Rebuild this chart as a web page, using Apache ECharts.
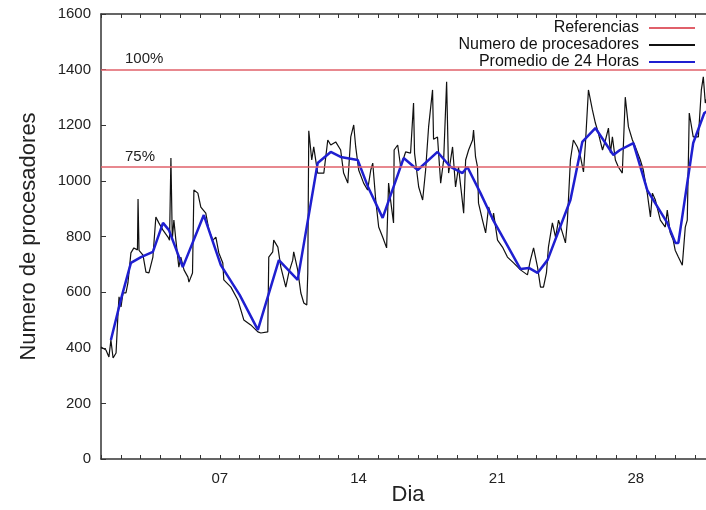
<!DOCTYPE html>
<html>
<head>
<meta charset="utf-8">
<script src="https://cdn.jsdelivr.net/npm/echarts@6/dist/echarts.min.js"></script>
<style>html,body{margin:0;padding:0;background:#fff;}#c{width:706px;height:510px;}</style>
</head>
<body>
<div id="c"></div>
<script>
// Reference levels
var refLevels = [1400, 1050];
var refLabels = ['100%', '75%'];
var xTickLabels = {7: '07', 14: '14', 21: '21', 28: '28'};

// Numero de procesadores (day, value)
var processors = [
[1.00,403],[1.25,392],[1.40,367],[1.50,428],[1.61,363],[1.76,381],[1.86,525],[1.91,583],[2.01,547],[2.11,597],
[2.26,597],[2.36,633],[2.51,741],[2.66,759],[2.84,752],[2.87,935],[2.92,750],[3.12,733],[3.27,672],[3.42,669],
[3.62,726],[3.77,870],[3.92,849],[4.13,823],[4.38,798],[4.46,787],[4.53,1082],[4.60,790],[4.68,859],[4.78,787],
[4.93,690],[5.03,726],[5.19,680],[5.39,654],[5.44,636],[5.62,669],[5.69,967],[5.89,956],[6.04,906],[6.29,884],
[6.45,823],[6.65,787],[6.80,798],[6.95,741],[7.15,705],[7.20,644],[7.56,618],[7.91,572],[8.21,500],[8.56,482],
[8.92,457],[9.07,453],[9.42,457],[9.47,726],[9.67,745],[9.72,787],[9.93,762],[10.08,690],[10.33,618],[10.48,669],
[10.68,715],[10.73,745],[10.93,680],[11.09,597],[11.24,561],[11.39,554],[11.44,669],[11.49,1180],[11.64,1075],[11.74,1122],
[11.94,1028],[12.25,1028],[12.45,1147],[12.60,1129],[12.85,1140],[13.10,1111],[13.25,1028],[13.46,992],[13.61,1158],[13.76,1201],
[13.86,1122],[14.01,1039],[14.26,992],[14.46,967],[14.62,1039],[14.72,1064],[14.87,931],[15.02,834],[15.22,798],[15.42,759],
[15.52,992],[15.62,931],[15.77,849],[15.80,1111],[15.98,1129],[16.13,1050],[16.38,1104],[16.63,1100],[16.78,1280],[16.83,1100],
[17.04,978],[17.24,931],[17.39,1039],[17.54,1194],[17.74,1327],[17.79,1150],[17.99,1158],[18.15,992],[18.30,1075],[18.45,1356],
[18.55,1028],[18.75,1122],[18.90,978],[19.05,1050],[19.20,956],[19.31,884],[19.41,1075],[19.56,1111],[19.76,1147],[19.81,1183],
[19.91,1086],[20.01,1050],[20.06,920],[20.26,859],[20.42,813],[20.57,906],[20.77,859],[20.82,884],[21.02,787],[21.27,762],
[21.52,726],[21.83,705],[22.18,680],[22.53,662],[22.68,715],[22.84,759],[23.04,690],[23.19,618],[23.34,618],[23.49,669],
[23.59,762],[23.79,849],[23.95,798],[24.10,859],[24.30,813],[24.45,777],[24.55,859],[24.70,1075],[24.85,1147],[25.05,1122],
[25.21,1086],[25.36,1032],[25.46,1136],[25.61,1327],[25.81,1255],[25.96,1208],[26.11,1172],[26.32,1111],[26.47,1147],[26.62,1190],
[26.72,1100],[26.82,1158],[26.97,1075],[27.12,1050],[27.32,1028],[27.47,1301],[27.63,1194],[27.83,1147],[27.98,1122],[28.23,1075],
[28.38,1039],[28.58,956],[28.74,870],[28.84,956],[28.99,931],[29.24,859],[29.49,834],[29.59,895],[29.74,813],[29.89,787],
[29.99,751],[30.15,726],[30.35,697],[30.50,834],[30.60,859],[30.70,1244],[30.90,1158],[31.16,1158],[31.31,1327],[31.41,1374],
[31.51,1280],[31.60,1300]
];

// Promedio de 24 Horas (day, value)
var average24h = [
[1.50,428],[2.01,575],[2.51,705],[3.02,726],[3.62,745],[4.13,849],[4.43,823],[5.13,690],[6.19,877],[7.05,697],
[8.00,590],[8.92,464],[9.98,715],[10.93,644],[11.94,1064],[12.60,1104],[13.10,1086],[13.96,1075],[14.50,975],[15.22,867],
[16.28,1082],[16.99,1039],[17.99,1104],[18.65,1050],[19.25,1028],[19.50,1050],[20.16,956],[20.80,859],[21.50,770],[22.18,683],
[22.60,687],[23.04,669],[23.55,716],[24.70,931],[25.30,1140],[25.96,1190],[26.87,1093],[27.20,1111],[27.88,1136],[28.58,967],
[29.59,849],[30.00,777],[30.15,777],[30.90,1136],[31.46,1244],[31.60,1250]
];

var font = 'Liberation Sans, Arial, Helvetica, sans-serif';
var chart = echarts.init(document.getElementById('c'));
var axisCommon = {
  type: 'value', min: 1, max: 32, interval: 1,
  axisLine: {show: true, lineStyle: {color: '#333', width: 1.5}},
  axisTick: {show: true, inside: true, length: 4, lineStyle: {color: '#333'}},
  splitLine: {show: false}
};
chart.setOption({
  backgroundColor: '#fff',
  animation: false,
  textStyle: {fontFamily: font},
  grid: {left: 101, top: 14, height: 445, width: 614, containLabel: false, outerBoundsMode: 'none'},
  legend: {
    orient: 'vertical', right: 6, top: 15, align: 'right',
    itemWidth: 46, itemHeight: 2, itemGap: 1,
    textStyle: {fontSize: 16, color: '#111', fontFamily: font, lineHeight: 16, padding: [0, 5, 0, 0]},
    data: [
      {name: 'Referencias', icon: 'rect'},
      {name: 'Numero de procesadores', icon: 'rect'},
      {name: 'Promedio de 24 Horas', icon: 'rect'}
    ]
  },
  xAxis: [
    Object.assign({}, axisCommon, {
      position: 'bottom',
      name: 'Dia', nameLocation: 'middle', nameGap: 25, nameMoveOverlap: false,
      nameTextStyle: {fontSize: 22, color: '#222', fontFamily: font},
      axisLabel: {
        fontSize: 15, color: '#222', margin: 12, fontFamily: font,
        formatter: function (v) { return xTickLabels[v] || ''; }
      }
    }),
    Object.assign({}, axisCommon, {position: 'top', axisLabel: {show: false}})
  ],
  yAxis: {
    type: 'value', min: 0, max: 1600, interval: 200,
    name: 'Numero de procesadores', nameLocation: 'middle', nameGap: 61,
    nameTextStyle: {fontSize: 22, color: '#222', fontFamily: font},
    axisLine: {show: true, lineStyle: {color: '#333', width: 1.5}},
    axisTick: {show: true, inside: true, length: 5, lineStyle: {color: '#333'}},
    axisLabel: {fontSize: 15, color: '#222', margin: 10, fontFamily: font,
      formatter: function (v) { return String(v); }},
    splitLine: {show: false}
  },
  series: [
    {
      name: 'Referencias', type: 'line', data: [], symbol: 'none',
      itemStyle: {color: '#e0606a'},
      lineStyle: {color: '#e0606a', width: 1.5},
      markLine: {
        silent: true, symbol: 'none',
        lineStyle: {color: '#e0606a', width: 1.5, type: 'solid'},
        label: {
          show: true, position: 'insideStartTop', distance: [24, 3],
          fontSize: 15, color: '#222', fontFamily: font,
          formatter: function (p) { return refLabels[p.dataIndex]; }
        },
        data: refLevels.map(function (v) { return {yAxis: v}; })
      }
    },
    {
      name: 'Numero de procesadores', type: 'line', data: processors,
      symbol: 'none', itemStyle: {color: '#111'},
      lineStyle: {color: '#111', width: 1.2}
    },
    {
      name: 'Promedio de 24 Horas', type: 'line', data: average24h,
      symbol: 'none', itemStyle: {color: '#1f1fd0'},
      lineStyle: {color: '#1f1fd0', width: 2.5}
    }
  ]
});
</script>
</body>
</html>
